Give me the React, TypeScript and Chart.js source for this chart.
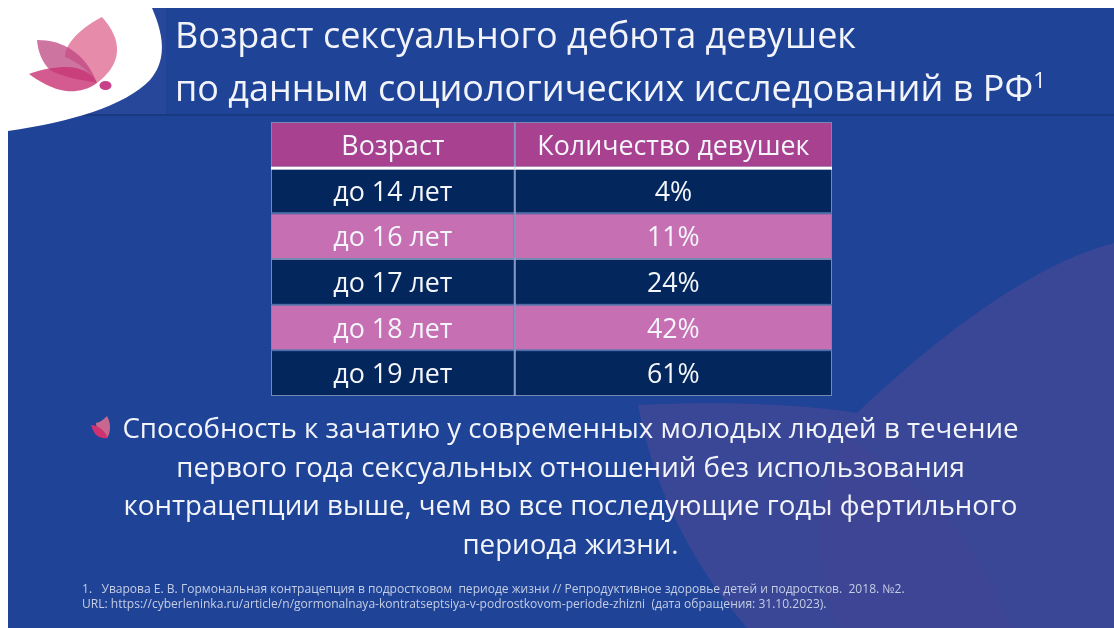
import React, { useEffect, useRef } from "react";
import { Chart, registerables } from "chart.js";

Chart.register(...registerables);

const headers = ["Возраст", "Количество девушек"];
const ageGroups = ["до 14 лет", "до 16 лет", "до 17 лет", "до 18 лет", "до 19 лет"];
const shareValues = [4, 11, 24, 42, 61];
const titleLines = ["Возраст сексуального дебюта девушек", "по данным социологических исследований в РФ"];
const bodyLines = [
  "Способность к зачатию у современных молодых людей в течение",
  "первого года сексуальных отношений без использования",
  "контрацепции выше, чем во все последующие годы фертильного",
  "периода жизни.",
];
const noteLines = [
  "1.   Уварова Е. В. Гормональная контрацепция в подростковом  периоде жизни // Репродуктивное здоровье детей и подростков.  2018. №2.",
  "URL: https://cyberleninka.ru/article/n/gormonalnaya-kontratseptsiya-v-podrostkovom-periode-zhizni  (дата обращения: 31.10.2023).",
];

const FONT = '"Open Sans", "Noto Sans", sans-serif';
const COL_SPLIT = 0.4345;
const rows = ["header", ...ageGroups];
const rowColor = (i: number) => (i === 0 ? "#a8418f" : i % 2 === 1 ? "#03275c" : "#c66fb2");

function leaf(ctx: CanvasRenderingContext2D, color: string, draw: () => void) {
  ctx.fillStyle = color;
  ctx.beginPath();
  draw();
  ctx.closePath();
  ctx.fill();
}

const slidePlugin = {
  id: "slide",
  beforeDraw(chart: any) {
    const ctx: CanvasRenderingContext2D = chart.ctx;
    ctx.save();
    ctx.fillStyle = "#1e4397";
    ctx.fillRect(8, 8, 1106, 620);
    ctx.beginPath();
    ctx.rect(8, 8, 1106, 620);
    ctx.clip();

    // lilac petals, lower right
    leaf(ctx, "#3a4796", () => {
      ctx.moveTo(1114, 243);
      ctx.bezierCurveTo(1040, 262, 950, 325, 857, 413);
      ctx.bezierCurveTo(790, 402, 700, 402, 638, 405);
      ctx.bezierCurveTo(650, 470, 680, 550, 747, 628);
      ctx.lineTo(1114, 628);
    });
    leaf(ctx, "#3e4594", () => {
      ctx.moveTo(845, 438);
      ctx.bezierCurveTo(820, 480, 805, 560, 840, 628);
      ctx.lineTo(1010, 628);
      ctx.bezierCurveTo(980, 540, 920, 480, 845, 438);
    });

    // title band
    ctx.fillStyle = "#26479a";
    ctx.fillRect(82, 8, 84, 107);
    ctx.fillStyle = "#1a3a7f";
    ctx.fillRect(82, 114, 1032, 2);

    // white corner
    leaf(ctx, "#ffffff", () => {
      ctx.moveTo(8, 8);
      ctx.lineTo(152, 8);
      ctx.bezierCurveTo(166, 40, 165, 62, 150, 80);
      ctx.bezierCurveTo(125, 106, 70, 122, 8, 131);
    });

    // logo
    leaf(ctx, "rgba(225,110,150,0.8)", () => {
      ctx.moveTo(102, 17);
      ctx.bezierCurveTo(112, 28, 118, 40, 117, 52);
      ctx.bezierCurveTo(116, 66, 106, 76, 97, 83);
      ctx.bezierCurveTo(90, 72, 78, 62, 65, 57);
      ctx.bezierCurveTo(65, 42, 84, 26, 102, 17);
    });
    leaf(ctx, "rgba(190,70,130,0.75)", () => {
      ctx.moveTo(37, 40);
      ctx.bezierCurveTo(62, 40, 85, 52, 97, 83);
      ctx.bezierCurveTo(80, 80, 60, 76, 50, 70);
      ctx.bezierCurveTo(42, 62, 38, 52, 37, 40);
    });
    leaf(ctx, "rgba(200,50,115,0.8)", () => {
      ctx.moveTo(29, 74);
      ctx.bezierCurveTo(48, 67, 66, 66, 76, 68);
      ctx.bezierCurveTo(86, 70, 94, 76, 97, 83);
      ctx.bezierCurveTo(88, 90, 76, 92, 66, 91);
      ctx.bezierCurveTo(52, 89, 40, 82, 29, 74);
    });
    ctx.fillStyle = "#c9408a";
    ctx.beginPath();
    ctx.ellipse(105.5, 85.5, 6, 4.5, 0, 0, Math.PI * 2);
    ctx.fill();

    // bullet
    leaf(ctx, "#c9688f", () => {
      ctx.moveTo(107, 416);
      ctx.bezierCurveTo(112, 425, 110, 434, 107, 438);
      ctx.bezierCurveTo(100, 436, 96, 428, 96, 423);
      ctx.bezierCurveTo(101, 422, 104, 419, 107, 416);
    });
    leaf(ctx, "#d2316f", () => {
      ctx.moveTo(91, 425);
      ctx.bezierCurveTo(98, 425, 104, 430, 108, 438);
      ctx.bezierCurveTo(100, 439, 94, 436, 91, 425);
    });
    ctx.restore();
  },
  afterDatasetsDraw(chart: any) {
    const ctx: CanvasRenderingContext2D = chart.ctx;
    const { x, y } = chart.scales;
    ctx.save();
    // header underline
    const headerBottom = y.getPixelForValue(0.5);
    ctx.fillStyle = "#ffffff";
    ctx.fillRect(x.left, headerBottom - 1, x.right - x.left, 3);
    // column divider
    ctx.fillStyle = "rgba(190,200,225,0.45)";
    ctx.fillRect(x.getPixelForValue(COL_SPLIT) - 1, y.top, 2, y.bottom - y.top);
    // cell text
    ctx.fillStyle = "#f4f6fb";
    ctx.font = `26.8px ${FONT}`;
    ctx.textAlign = "center";
    ctx.textBaseline = "middle";
    const col1 = x.getPixelForValue(COL_SPLIT / 2);
    const col2 = x.getPixelForValue((COL_SPLIT + 1) / 2);
    ctx.fillText(headers[0], col1, y.getPixelForValue(0) + 2.5);
    ctx.fillText(headers[1], col2, y.getPixelForValue(0) + 2.5);
    ageGroups.forEach((age, i) => {
      ctx.fillText(age, col1, y.getPixelForValue(i + 1) + 2.5);
      ctx.fillText(`${shareValues[i]}%`, col2, y.getPixelForValue(i + 1) + 2.5);
    });
    ctx.restore();
  },
};

const abs = (left: number, top: number, size: number, color = "#f2f4fa"): React.CSSProperties => ({
  position: "absolute",
  left,
  top,
  fontSize: size,
  lineHeight: 1,
  color,
  whiteSpace: "pre",
  fontFamily: FONT,
});

export default function App() {
  const ref = useRef<HTMLCanvasElement>(null);
  useEffect(() => {
    const chart = new Chart(ref.current!, {
      type: "bar",
      data: {
        labels: rows,
        datasets: [
          {
            label: headers[0],
            data: rows.map(() => [0, COL_SPLIT]) as any,
            backgroundColor: rows.map((_, i) => rowColor(i)),
            borderColor: "#7488b3",
            borderWidth: 1,
            borderSkipped: false,
            inflateAmount: 0,
          },
          {
            label: headers[1],
            data: rows.map(() => [COL_SPLIT, 1]) as any,
            backgroundColor: rows.map((_, i) => rowColor(i)),
            borderColor: "#7488b3",
            borderWidth: 1,
            borderSkipped: false,
            inflateAmount: 0,
          },
        ],
      },
      options: {
        indexAxis: "y",
        animation: false,
        responsive: false,
        layout: { padding: { left: 271, right: 282, top: 122, bottom: 232 } },
        datasets: { bar: { categoryPercentage: 1, barPercentage: 1, grouped: false } },
        scales: {
          x: { type: "linear", min: 0, max: 1, display: false },
          y: { type: "category", display: false },
        },
        plugins: { legend: { display: false }, tooltip: { enabled: false } },
      } as any,
      plugins: [slidePlugin as any],
    });
    return () => chart.destroy();
  }, []);

  return (
    <div style={{ position: "fixed", left: 0, top: 0, width: 1114, height: 628, overflow: "hidden", filter: "blur(0.5px)" }}>
      <canvas ref={ref} width={1114} height={628} style={{ position: "absolute", left: 0, top: 0 }} />
      <div style={abs(175, 17, 36)}>{titleLines[0]}</div>
      <div style={abs(175, 70, 36)}>
        {titleLines[1]}
        <sup style={{ fontSize: 22, lineHeight: 0, verticalAlign: "baseline", position: "relative", top: -13 }}>1</sup>
      </div>
      {bodyLines.map((line, i) => (
        <div key={i} style={{ ...abs(0, 414 + i * 38.7, 27.7), width: 1141, textAlign: "center" }}>
          {line}
        </div>
      ))}
      {noteLines.map((line, i) => (
        <div key={i} style={abs(82, 583 + i * 15.3, 12.05, "#c4cde4")}>
          {line}
        </div>
      ))}
    </div>
  );
}
